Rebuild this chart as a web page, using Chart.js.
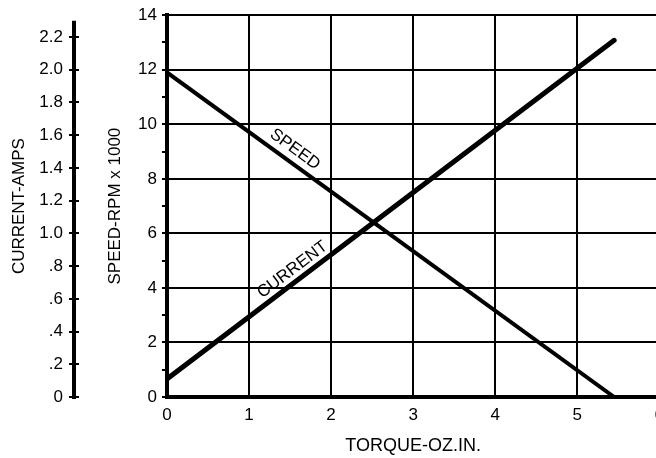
<!DOCTYPE html>
<html>
<head>
<meta charset="utf-8">
<script src="https://cdn.jsdelivr.net/npm/chart.js@4/dist/chart.umd.min.js"></script>
<style>
html,body{margin:0;padding:0;background:#fff;overflow:hidden;width:656px;height:458px;}
canvas{display:block;}
</style>
</head>
<body>
<canvas id="c" width="672" height="458" style="width:672px;height:458px"></canvas>
<script>
// ---- data ----
const torqueTicks = [0, 1, 2, 3, 4, 5, 6];
const speedTickLabels = ['0', '2', '4', '6', '8', '10', '12', '14'];
const currentTickLabels = ['0', '.2', '.4', '.6', '.8', '1.0', '1.2', '1.4', '1.6', '1.8', '2.0', '2.2'];
const speedTorque = [0, 5.45];
const speedK = [11.9, 0];          // RPM x 1000
const currentTorque = [0, 5.45];
const currentAmps = [0.11, 2.18];  // amps
const currentAxisTop = 2.3;
const lineLabels = ['SPEED', 'CURRENT'];
const lineLabelX = [1.56, 1.53];
const lineLabelY = [9.08, 4.67];   // in speed units

const FONT = '"Liberation Sans", Arial, Helvetica, sans-serif';

const annot = {
  id: 'annot',
  afterDraw(chart) {
    const ctx = chart.ctx;
    const xs = chart.scales.x, ys = chart.scales.y, yc = chart.scales.yc;
    const ax = yc.right - 2;
    ctx.save();
    ctx.strokeStyle = '#000';
    ctx.lineWidth = 4;
    ctx.beginPath();
    ctx.moveTo(ax, yc.getPixelForValue(0) + 2);
    ctx.lineTo(ax, yc.getPixelForValue(currentAxisTop));
    ctx.stroke();
    ctx.lineWidth = 2;
    yc.ticks.forEach(t => {
      if (t.value > currentAxisTop + 1e-6) return;
      const py = Math.round(yc.getPixelForValue(t.value));
      ctx.beginPath();
      ctx.moveTo(ax - 5, py);
      ctx.lineTo(ax + 5, py);
      ctx.stroke();
    });
    ctx.fillStyle = '#000';
    ctx.font = '17px ' + FONT;
    ctx.textAlign = 'center';
    ctx.textBaseline = 'middle';
    const sets = [[speedTorque, speedK, ys], [currentTorque, currentAmps, yc]];
    lineLabels.forEach((txt, i) => {
      const [tx, ty, sc] = sets[i];
      const dx = xs.getPixelForValue(tx[1]) - xs.getPixelForValue(tx[0]);
      const dy = sc.getPixelForValue(ty[1]) - sc.getPixelForValue(ty[0]);
      const ang = Math.atan2(dy, dx);
      const px = xs.getPixelForValue(lineLabelX[i]);
      const py = ys.getPixelForValue(lineLabelY[i]);
      ctx.save();
      ctx.translate(px, py);
      ctx.rotate(ang);
      ctx.fillText(txt, 0, 0);
      ctx.restore();
    });
    ctx.restore();
  }
};

new Chart(document.getElementById('c'), {
  type: 'line',
  data: {
    datasets: [
      {
        label: 'SPEED',
        data: speedTorque.map((t, i) => ({x: t, y: speedK[i]})),
        yAxisID: 'y',
        borderColor: '#000',
        borderWidth: 4,
        pointRadius: 0,
        tension: 0
      },
      {
        label: 'CURRENT',
        data: currentTorque.map((t, i) => ({x: t, y: currentAmps[i]})),
        yAxisID: 'yc',
        borderColor: '#000',
        borderWidth: 5,
        borderCapStyle: 'round',
        pointRadius: 0,
        tension: 0
      }
    ]
  },
  options: {
    responsive: false,
    animation: false,
    events: [],
    layout: {padding: {top: 10, right: 0, bottom: 0, left: 0}},
    plugins: {legend: {display: false}, tooltip: {enabled: false}},
    scales: {
      x: {
        type: 'linear',
        min: torqueTicks[0],
        max: torqueTicks[torqueTicks.length - 1],
        afterFit(s) { s.height = 61; },
        ticks: {
          stepSize: 1,
          color: '#000',
          font: {family: FONT, size: 17},
          padding: 8,
          maxRotation: 0,
          callback: v => torqueTicks.includes(v) ? String(v) : null
        },
        grid: {color: '#000', lineWidth: 2, drawTicks: false},
        border: {color: '#000', width: 4},
        title: {
          display: true,
          text: 'TORQUE-OZ.IN.',
          color: '#000',
          font: {family: FONT, size: 18},
          padding: {top: 0, bottom: 1}
        }
      },
      y: {
        type: 'linear',
        position: 'left',
        weight: 1,
        min: 0,
        max: 14,
        afterFit(s) { s.width = 91; },
        ticks: {
          stepSize: 1,
          color: '#000',
          font: {family: FONT, size: 17},
          padding: 5,
          callback: v => (v % 2 === 0 ? speedTickLabels[v / 2] : '')
        },
        grid: {
          color: ctx => (ctx.tick && ctx.tick.value % 2 === 0 ? '#000' : 'rgba(0,0,0,0)'),
          tickColor: '#000',
          lineWidth: 2,
          tickLength: 5
        },
        border: {color: '#000', width: 4},
        title: {
          display: true,
          text: 'SPEED-RPM x 1000',
          color: '#000',
          font: {family: FONT, size: 17},
          padding: {top: 29, bottom: 0}
        }
      },
      yc: {
        type: 'linear',
        position: 'left',
        weight: 2,
        min: 0,
        max: 14 / 6,
        afterFit(s) { s.width = 76; },
        ticks: {
          stepSize: 0.1,
          includeBounds: false,
          color: '#000',
          font: {family: FONT, size: 17},
          padding: 5,
          callback: v => {
            const n = Math.round(v * 10);
            return n % 2 === 0 && n / 2 < currentTickLabels.length ? currentTickLabels[n / 2] : '';
          }
        },
        grid: {display: false},
        border: {display: false},
        title: {
          display: true,
          text: 'CURRENT-AMPS',
          color: '#000',
          font: {family: FONT, size: 17},
          padding: {top: 9, bottom: 0}
        }
      }
    }
  },
  plugins: [annot]
});
</script>
</body>
</html>
